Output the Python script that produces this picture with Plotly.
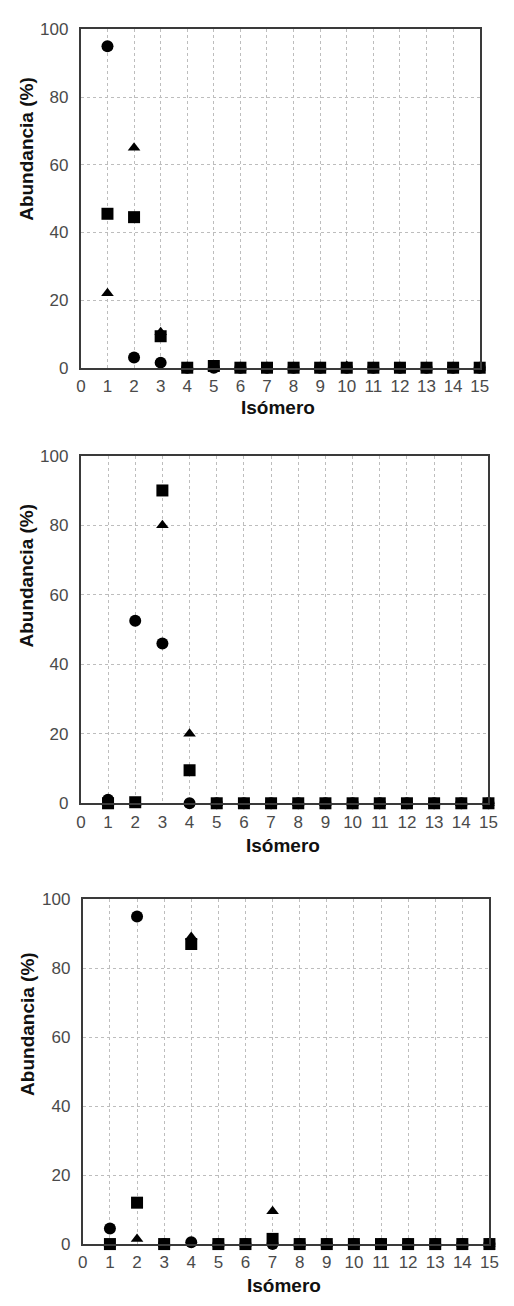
import plotly.graph_objects as go

W, H = 514, 1306

isomero = list(range(1, 16))

# Panel 1
p1_circle = [95, 3, 1.5, 0, 0, 0, 0, 0, 0, 0, 0, 0, 0, 0, 0]
p1_triangle = [22, 65, 10.5, 0, 0, 0, 0, 0, 0, 0.5, 0, 0, 0, 0, 0]
p1_square = [45.5, 44.5, 9.3, 0, 0.5, 0, 0, 0, 0, 0, 0, 0, 0, 0, 0]

# Panel 2
p2_circle = [1, 52.5, 46, 0, 0, 0, 0, 0, 0, 0, 0, 0, 0, 0, 0]
p2_triangle = [0, 0, 80, 20, 0, 0, 0, 0, 0, 0, 0, 0, 0, 0, 0]
p2_square = [0, 0.3, 90, 9.5, 0, 0, 0, 0, 0, 0, 0, 0, 0, 0, 0]

# Panel 3
p3_circle = [4.5, 95, 0, 0.5, 0, 0, 0, 0, 0, 0, 0, 0, 0, 0, 0]
p3_triangle = [0, 1.5, 0, 89, 0, 0, 9.5, 0, 0, 0, 0, 0, 0, 0, 0]
p3_square = [0, 12, 0, 87, 0, 0, 1.5, 0, 0, 0, 0, 0, 0, 0, 0]

x_ticks = list(range(0, 16))
y_ticks = [0, 20, 40, 60, 80, 100]
x_title = "Isómero"
y_title = "Abundancia (%)"

panels = [
    (p1_circle, p1_triangle, p1_square),
    (p2_circle, p2_triangle, p2_square),
    (p3_circle, p3_triangle, p3_square),
]

# pixel boxes: left, right, top, bottom
boxes = [
    (78, 488, 20.7, 364),
    (78, 497, 453.3, 806),
    (80, 498, 903.3, 1253.3),
]
ytitle_center = [142, 575, 1030]
xtitle_y = [404, 849, 1295]

fig = go.Figure()
axis_line = "#3a3a3a"
grid_col = "#bdbdbd"
tick_font = dict(family="Liberation Sans, Arial, sans-serif", size=17, color="#4a4a4a")
title_font = dict(family="Liberation Sans, Arial, sans-serif", size=19, color="#111111")

for i, (circ, tri, sq) in enumerate(panels):
    n = "" if i == 0 else str(i + 1)
    xa, ya = "x" + n, "y" + n
    for vals, sym, size in [(circ, "circle", 12), (tri, "triangle-up", 11), (sq, "square", 12)]:
        fig.add_trace(go.Scatter(
            x=isomero, y=vals, mode="markers", xaxis=xa, yaxis=ya,
            marker=dict(symbol=sym, size=size, color="black", line=dict(width=0)),
            cliponaxis=False, showlegend=False, hoverinfo="skip",
        ))
    l, r, t, b = boxes[i]
    common = dict(showline=True, linecolor=axis_line, linewidth=2, mirror=True,
                  showgrid=True, gridcolor=grid_col, gridwidth=1, griddash="dot",
                  zeroline=False, ticks="", tickfont=tick_font, fixedrange=True)
    fig.update_layout(**{
        "xaxis" + n: dict(domain=[l / W, r / W], range=[0, 15], tickmode="array",
                          tickvals=x_ticks, anchor=ya, ticklabelstandoff=2, **common),
        "yaxis" + n: dict(domain=[1 - b / H, 1 - t / H], range=[0, 100], tickmode="array",
                          tickvals=y_ticks, anchor=xa, ticklabelstandoff=7, **common),
    })
    fig.add_annotation(text="<b>" + y_title + "</b>", textangle=-90, xref="paper", yref="paper",
                       x=22.5 / W, y=1 - ytitle_center[i] / H, showarrow=False,
                       font=title_font, xanchor="center", yanchor="middle")
    fig.add_annotation(text="<b>" + x_title + "</b>", xref="paper", yref="paper",
                       x=((l + r) / 2 - 2) / W, y=1 - xtitle_y[i] / H, showarrow=False,
                       font=title_font, xanchor="center", yanchor="middle")

fig.update_layout(width=W, height=H, margin=dict(l=0, r=0, t=0, b=0),
                  paper_bgcolor="white", plot_bgcolor="white", hovermode=False)
fig.write_html("out.html", config={"displayModeBar": False, "staticPlot": True},
               post_script="document.body.style.margin='0';document.body.style.overflow='hidden';")
